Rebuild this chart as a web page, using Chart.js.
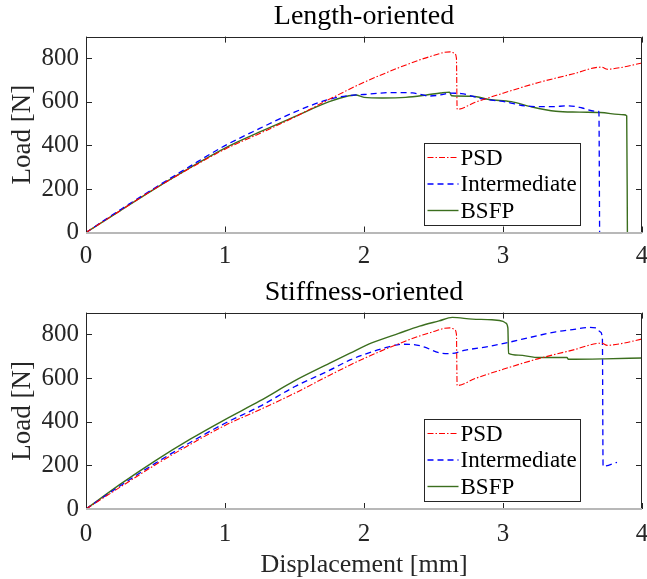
<!DOCTYPE html>
<html>
<head>
<meta charset="utf-8">
<script src="https://cdn.jsdelivr.net/npm/chart.js@4"></script>
<style>
  html, body { margin: 0; padding: 0; background: #fff; overflow: hidden; }
  .panel { position: absolute; left: 0; }
  #top { top: 0; }
  #bottom { top: 270px; }
</style>
</head>
<body>
<canvas id="top" class="panel" width="647" height="270"></canvas>
<canvas id="bottom" class="panel" width="647" height="312"></canvas>
<script>
// tick labels
const xTicks = [0, 1, 2, 3, 4];
const yTicks = [0, 200, 400, 600, 800];
const seriesNames = ["PSD", "Intermediate", "BSFP"];

// PSD (same specimen in both panels)
const psdX = [0, 0.25, 0.5, 0.75, 1, 1.25, 1.5, 1.75, 2, 2.25, 2.4, 2.5, 2.58, 2.62, 2.65, 2.665, 2.67, 2.8, 3, 3.25, 3.5, 3.71, 3.75, 3.85, 4];
const psdY = [0, 102, 203, 296, 383, 455, 530, 612, 690, 757, 793, 813, 828, 830, 824, 800, 566, 598, 640, 688, 728, 760, 750, 758, 779];

// Length-oriented
const lenIntX = [0, 0.25, 0.5, 0.75, 1, 1.25, 1.5, 1.75, 1.9, 2, 2.2, 2.35, 2.47, 2.55, 2.62, 2.7, 2.85, 3, 3.2, 3.35, 3.47, 3.57, 3.66, 3.69, 3.695];
const lenIntY = [0, 106, 207, 305, 399, 478, 553, 612, 630, 634, 643, 641, 627, 632, 640, 638, 614, 602, 579, 578, 582, 572, 558, 556, 0];
const lenBsfpX = [0, 0.25, 0.5, 0.75, 1, 1.25, 1.5, 1.75, 1.87, 1.94, 2, 2.13, 2.3, 2.45, 2.55, 2.615, 2.63, 2.78, 2.9, 3.06, 3.2, 3.38, 3.55, 3.7, 3.87, 3.89, 3.895];
const lenBsfpY = [0, 102, 203, 298, 388, 462, 532, 601, 625, 632, 621, 618, 621, 632, 641, 645, 628, 626, 611, 601, 578, 557, 553, 551, 541, 536, 0];

// Stiffness-oriented
const stfIntX = [0, 0.25, 0.5, 0.75, 1, 1.25, 1.5, 1.75, 1.9, 2, 2.15, 2.28, 2.35, 2.43, 2.54, 2.62, 2.73, 2.9, 3.05, 3.2, 3.38, 3.5, 3.62, 3.67, 3.7, 3.715, 3.72, 3.82];
const stfIntY = [0, 108, 210, 305, 393, 470, 560, 635, 683, 708, 738, 755, 754, 743, 716, 712, 728, 745, 765, 787, 812, 822, 832, 830, 812, 782, 196, 214];
const stfBsfpX = [0, 0.25, 0.5, 0.75, 1, 1.25, 1.5, 1.75, 1.9, 2.06, 2.25, 2.4, 2.54, 2.635, 2.78, 2.92, 3, 3.02, 3.035, 3.04, 3.11, 3.26, 3.46, 3.47, 3.73, 4];
const stfBsfpY = [0, 115, 222, 320, 410, 495, 587, 667, 714, 762, 805, 838, 862, 878, 870, 867, 860, 852, 830, 713, 705, 694, 694, 686, 688, 692];

const FONT = "'Liberation Serif', 'Times New Roman', serif";
const INK = "#262626";
const styles = [
  { borderColor: "#ff0000", borderWidth: 1.1, borderDash: [6, 2, 1.5, 2] },
  { borderColor: "#0000ff", borderWidth: 1.3, borderDash: [6, 4] },
  { borderColor: "#3b6e1e", borderWidth: 1.4, borderDash: [] }
];

const toPoints = (xs, ys) => xs.map((x, i) => ({ x: x, y: ys[i] }));

// MATLAB-style box with inward ticks on all sides
const frame = {
  id: "frame",
  afterDatasetsDraw(chart) {
    const { ctx, chartArea: a, scales: { x, y } } = chart;
    ctx.save();
    ctx.lineWidth = 1;
    ctx.strokeStyle = INK;
    ctx.beginPath();
    xTicks.forEach(v => {
      const px = Math.round(x.getPixelForValue(v)) + 0.5;
      ctx.moveTo(px, a.bottom); ctx.lineTo(px, a.bottom - 6);
      ctx.moveTo(px, a.top); ctx.lineTo(px, a.top + 6);
    });
    yTicks.forEach(v => {
      const py = Math.round(y.getPixelForValue(v)) + 0.5;
      ctx.moveTo(a.left, py); ctx.lineTo(a.left + 6, py);
      ctx.moveTo(a.right, py); ctx.lineTo(a.right - 6, py);
    });
    ctx.stroke();
    const l = Math.round(a.left) + 0.5, r = Math.round(a.right) - 0.5;
    const t = Math.round(a.top) + 0.5, b = Math.round(a.bottom);
    ctx.beginPath();
    ctx.moveTo(l, b); ctx.lineTo(l, t); ctx.lineTo(r, t); ctx.lineTo(r, b);
    ctx.stroke();
    ctx.strokeStyle = "#b8b8b8";
    ctx.lineWidth = 2;
    ctx.beginPath();
    ctx.moveTo(l - 0.5, b); ctx.lineTo(r + 0.5, b);
    ctx.stroke();
    ctx.restore();
  },
  afterDraw(chart) {
    // legend box in the lower right of the axes
    const { ctx, chartArea: a } = chart;
    const w = 156, h = 82;
    const bx = Math.round(a.right - 62 - w) + 0.5;
    const by = Math.round(a.bottom - 8 - h) + 0.5;
    ctx.save();
    ctx.fillStyle = "#fff";
    ctx.fillRect(bx, by, w, h);
    ctx.strokeStyle = INK;
    ctx.lineWidth = 1;
    ctx.strokeRect(bx, by, w, h);
    ctx.font = "23px " + FONT;
    ctx.textBaseline = "middle";
    ctx.fillStyle = "#000";
    chart.data.datasets.forEach((ds, i) => {
      const cy = by + 14 + i * 26.5;
      ctx.save();
      ctx.strokeStyle = ds.borderColor;
      ctx.lineWidth = ds.borderWidth;
      ctx.setLineDash(ds.borderDash);
      ctx.beginPath();
      ctx.moveTo(bx + 3, cy); ctx.lineTo(bx + 34, cy);
      ctx.stroke();
      ctx.restore();
      ctx.fillText(ds.label, bx + 36, cy + 1);
    });
    ctx.restore();
  }
};

const makeChart = (canvasId, title, series, opts) => {
  new Chart(document.getElementById(canvasId), {
    type: "line",
    data: {
      datasets: series.map((pts, i) => Object.assign({
        label: seriesNames[i],
        data: pts,
        pointRadius: 0,
        fill: false,
        cubicInterpolationMode: "monotone"
      }, styles[i]))
    },
    options: {
      responsive: false,
      animation: false,
      devicePixelRatio: 1,
      layout: { padding: { left: 0, right: 5, top: 0, bottom: 0 } },
      plugins: {
        legend: { display: false },
        tooltip: { enabled: false },
        title: {
          display: true,
          fullSize: false,
          text: title,
          color: "#000",
          font: { family: FONT, size: 28, weight: "normal" },
          padding: opts.titlePad
        }
      },
      scales: {
        x: {
          type: "linear",
          min: 0,
          max: 4,
          grid: { display: false },
          border: { display: false },
          afterBuildTicks: s => { s.ticks = xTicks.map(v => ({ value: v })); },
          afterFit: s => { s.height = opts.xHeight; s.paddingLeft = 0; s.paddingRight = 0; },
          ticks: {
            color: INK,
            padding: opts.xTickPad,
            maxRotation: 0,
            font: { family: FONT, size: 25 }
          },
          title: {
            display: !!opts.xTitle,
            text: opts.xTitle || "",
            color: INK,
            font: { family: FONT, size: 26 },
            padding: { top: 0, bottom: 1 }
          }
        },
        y: {
          min: 0,
          max: 900,
          grid: { display: false },
          border: { display: false },
          afterBuildTicks: s => { s.ticks = yTicks.map(v => ({ value: v })); },
          afterFit: s => { s.width = 86; },
          ticks: {
            color: INK,
            padding: -1,
            font: { family: FONT, size: 25 }
          },
          title: {
            display: true,
            text: "Load [N]",
            color: INK,
            font: { family: FONT, size: 27 },
            padding: { top: 7, bottom: 0 }
          }
        }
      }
    },
    plugins: [frame]
  });
};

makeChart("top", "Length-oriented",
  [toPoints(psdX, psdY), toPoints(lenIntX, lenIntY), toPoints(lenBsfpX, lenBsfpY)],
  { titlePad: { top: 0, bottom: 3 }, xHeight: 37.5, xTickPad: 1 });

makeChart("bottom", "Stiffness-oriented",
  [toPoints(psdX, psdY), toPoints(stfIntX, stfIntY), toPoints(stfBsfpX, stfBsfpY)],
  { titlePad: { top: 6, bottom: 3 }, xHeight: 73, xTickPad: 2, xTitle: "Displacement [mm]" });
</script>
</body>
</html>
